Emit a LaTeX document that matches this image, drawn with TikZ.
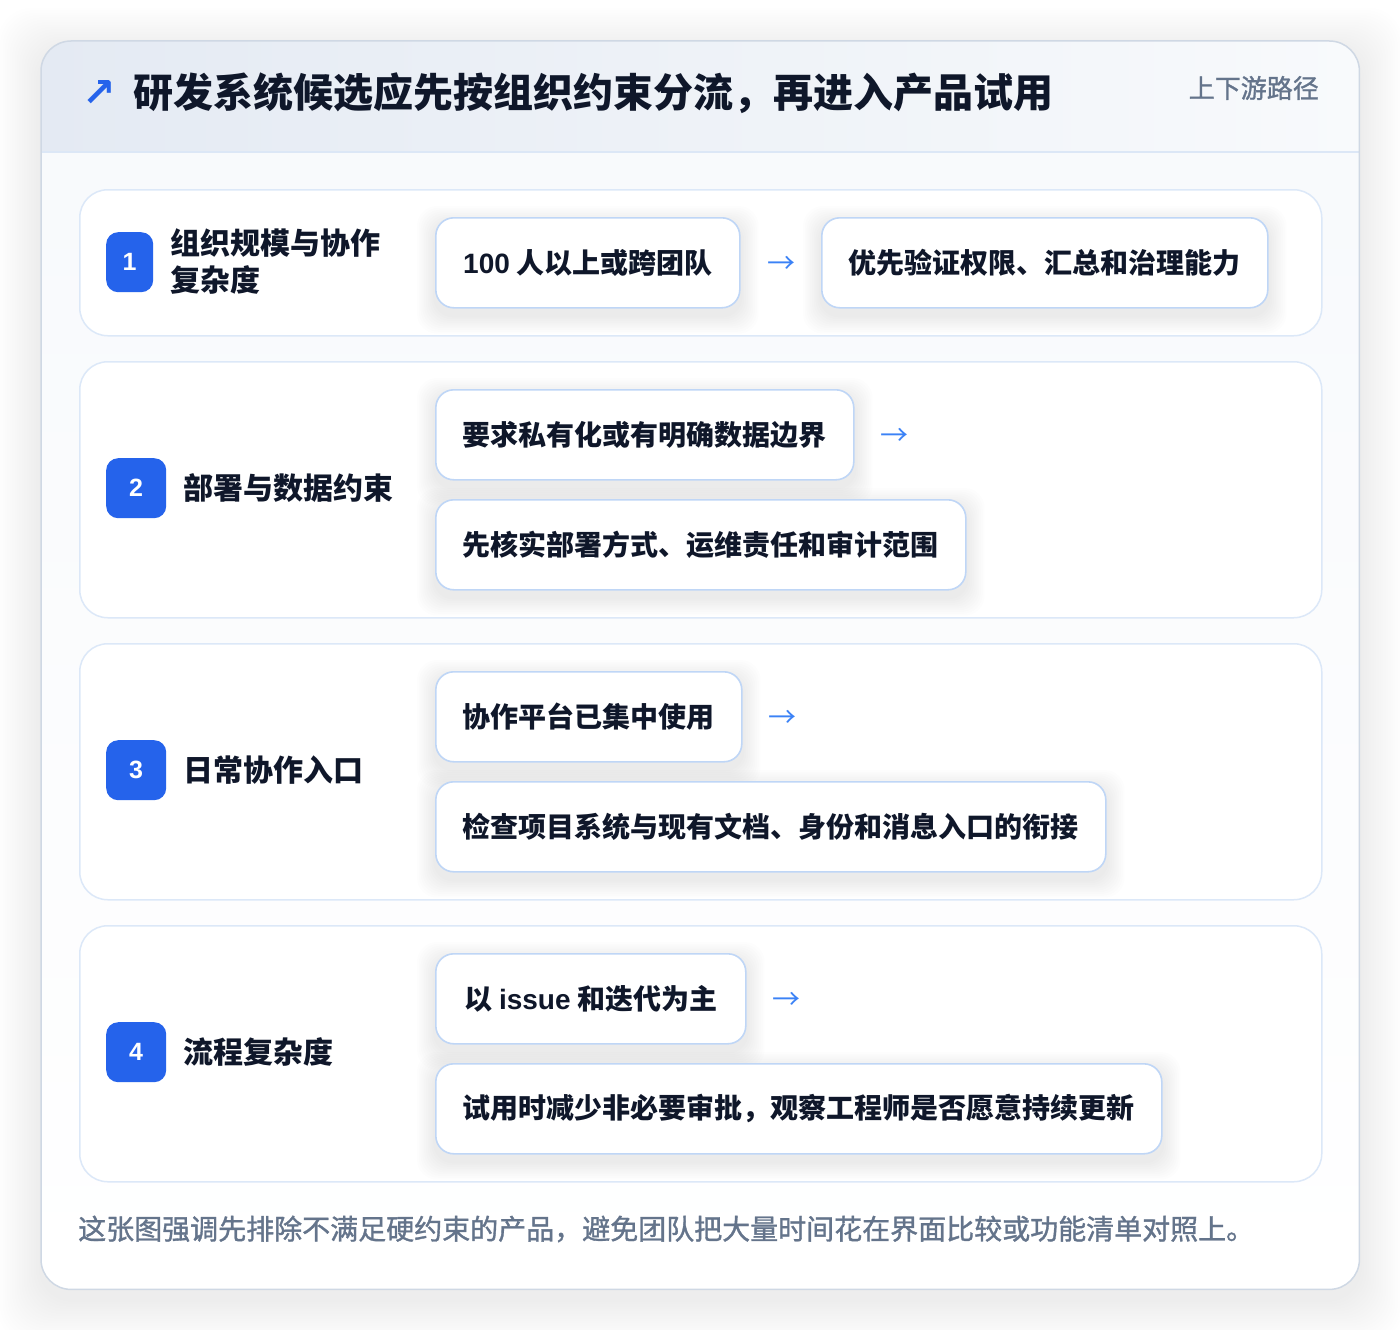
\documentclass[tikz,border=0pt]{standalone}
\usepackage{fontspec}
\setmainfont{Noto Sans CJK SC}
\newfontfamily\medf[BoldFont={Noto Sans CJK SC}, BoldFeatures={FakeBold=1.2}]{Noto Sans CJK SC}
\newfontfamily\latinf{Liberation Sans}
\newfontfamily\symf{DejaVu Sans}
\definecolor{ink}{HTML}{0F172A}
\definecolor{muted}{HTML}{64748B}
\definecolor{accent}{HTML}{2563EB}
\definecolor{arrowc}{HTML}{3B82F6}
\definecolor{cardline}{HTML}{DCE8F8}
\definecolor{boxline}{HTML}{BFD6F6}
\definecolor{outerline}{HTML}{CFD8E4}
\definecolor{hdrleft}{HTML}{E4EAF3}
\definecolor{hdrright}{HTML}{F8FAFC}
\definecolor{hdrline}{HTML}{DCE7F6}
\definecolor{bodytop}{HTML}{F7F9FC}
\newcommand\fTitle{\fontsize{40pt}{48pt}\selectfont\bfseries}
\newcommand\fSub{\fontsize{26pt}{32pt}\selectfont\medf\bfseries}
\newcommand\fBox{\fontsize{28pt}{34pt}\selectfont\bfseries}
\newcommand\fLabel{\fontsize{30pt}{37pt}\selectfont\bfseries}
\newcommand\fBadge{\fontsize{25pt}{28pt}\selectfont\latinf\bfseries}
\newcommand\fArrow{\fontsize{28pt}{32pt}\selectfont}
\newcommand\fFoot{\fontsize{28pt}{34pt}\selectfont\medf\bfseries}
\pgfdeclarelayer{lzero}\pgfdeclarelayer{lone}\pgfdeclarelayer{ltwo}
\pgfsetlayers{lzero,lone,ltwo,main}
\newcommand\softsh[6]{% node, n, step, opacity, drop, radius
  \foreach \k in {1,...,#2}{%
    \fill[black, opacity=#4, rounded corners=#6]
      ([xshift=-\k*#3pt, yshift=-#5pt-\k*#3pt]#1.south west) rectangle
      ([xshift=\k*#3pt, yshift=-#5pt+\k*#3pt]#1.north east);}}
\tikzset{
  outer/.style={fill=white, rounded corners=30pt, inner sep=0, anchor=north west,
    minimum width=1318pt, minimum height=1248pt},
  rowcard/.style={draw=cardline, line width=1.5pt, fill=white, rounded corners=28pt,
    inner sep=0, anchor=north west, minimum width=1242pt},
  box/.style={draw=boxline, line width=1.6pt, fill=white, rounded corners=18pt,
    inner sep=0, minimum height=90pt, anchor=north west, text=ink, font=\fBox},
  badge/.style={fill=accent, rounded corners=12pt, minimum height=60pt, inner sep=0,
    anchor=north west, text=white, font=\fBadge},
  lbl/.style={anchor=west, inner sep=0, text=ink, font=\fLabel, align=left},
  arr/.style={text=arrowc, font=\fArrow, inner sep=0},
}
\begin{document}
\begin{tikzpicture}[x=1pt, y=-1pt]
\begin{pgfonlayer}{lzero}
  \fill[white] (0,0) rectangle (1400,1330);
\end{pgfonlayer}
\useasboundingbox (0,0) rectangle (1400,1330);

% outer card
\begin{pgfonlayer}{lzero}
  \node[outer] (card) at (41,41) {};
  \softsh{card}{18}{2.4}{0.0045}{10}{34pt}
  \shade[rounded corners=30pt, top color=bodytop, bottom color=white]
    (card.south west) rectangle (card.north east);
\end{pgfonlayer}

\begin{pgfonlayer}{lone}
  \coordinate (hdrL) at (41,152);
  \coordinate (hdrR) at (1359,152);
  \begin{scope}
    \clip[rounded corners=30pt] (card.south west) rectangle (card.north east);
    \shade[left color=hdrleft, right color=hdrright] (card.north west) rectangle (hdrR);
  \end{scope}
  \draw[hdrline, line width=1.5pt] (hdrL) -- (hdrR);
  \draw[outerline, line width=1.5pt, rounded corners=30pt] (card.south west) rectangle (card.north east);

  \node[rowcard, minimum height=146pt] (r1) at (79,189) {};
  \node[rowcard, minimum height=256pt] (r2) at (79,361) {};
  \node[rowcard, minimum height=256pt] (r3) at (79,643) {};
  \node[rowcard, minimum height=256pt] (r4) at (79,925) {};
\end{pgfonlayer}

% header texts
\node[anchor=center, inner sep=0, text=accent, font=\fontsize{40pt}{44pt}\selectfont\symf\bfseries] (hicon) at (99,94) {↗};
\node[anchor=west, inner sep=0, text=ink, font=\fTitle] (title) at (133,93) {研发系统候选应先按组织约束分流，再进入产品试用};
\node[anchor=east, inner sep=0, text=muted, font=\fSub] (sub) at (1319,88) {上下游路径};

% row 1
\node[badge, minimum width=47pt] (n1) at (106,232) {1};
\node[lbl] (l1) at (170,262) {组织规模与协作\\复杂度};
\node[box, minimum width=304pt] (b1a) at (435,217) {{\latinf 100} 人以上或跨团队};
\node[arr] (a1) at (781,265) {→};
\node[box, minimum width=446pt] (b1b) at (821,217) {优先验证权限、汇总和治理能力};

% row 2
\node[badge, minimum width=60pt] (n2) at (106,458) {2};
\node[lbl] (l2) at (183,488) {部署与数据约束};
\node[box, minimum width=418pt] (b2a) at (435,389) {要求私有化或有明确数据边界};
\node[arr] (a2) at (894,437) {→};
\node[box, minimum width=530pt] (b2b) at (435,499) {先核实部署方式、运维责任和审计范围};

% row 3
\node[badge, minimum width=60pt] (n3) at (106,740) {3};
\node[lbl] (l3) at (183,770) {日常协作入口};
\node[box, minimum width=306pt] (b3a) at (435,671) {协作平台已集中使用};
\node[arr] (a3) at (782,719) {→};
\node[box, minimum width=670pt] (b3b) at (435,781) {检查项目系统与现有文档、身份和消息入口的衔接};

% row 4
\node[badge, minimum width=60pt] (n4) at (106,1022) {4};
\node[lbl] (l4) at (183,1052) {流程复杂度};
\node[box, minimum width=310pt] (b4a) at (435,953) {以 {\latinf issue} 和迭代为主};
\node[arr] (a4) at (786,1001) {→};
\node[box, minimum width=726pt] (b4b) at (435,1063) {试用时减少非必要审批，观察工程师是否愿意持续更新};

% box shadows
\begin{pgfonlayer}{ltwo}
  \foreach \b in {b1a,b1b,b2a,b2b,b3a,b3b,b4a,b4b}{\softsh{\b}{10}{1.8}{0.006}{7}{20pt}}
\end{pgfonlayer}

% footer
\node[anchor=west, inner sep=0, text=muted, font=\fFoot] (foot) at (78,1229) {这张图强调先排除不满足硬约束的产品，避免团队把大量时间花在界面比较或功能清单对照上。};
\end{tikzpicture}
\end{document}
